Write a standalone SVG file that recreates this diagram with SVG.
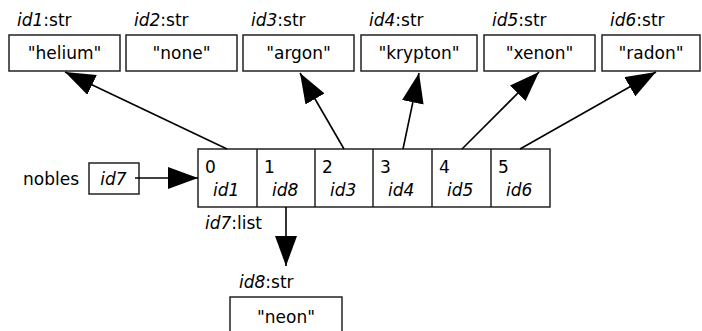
<svg xmlns="http://www.w3.org/2000/svg" width="702" height="331" viewBox="0 0 702 331">
<style>
text{font-family:"DejaVu Sans",sans-serif;font-size:17px;fill:#000}
.i{font-style:italic}
.box{fill:#fff;stroke:#222;stroke-width:1.5}
.c{text-anchor:middle}
.ln{stroke:#000;stroke-width:1.6;fill:none}
.sep{stroke:#222;stroke-width:1.5}
</style>
<defs>
<marker id="ah" markerUnits="userSpaceOnUse" markerWidth="30" markerHeight="22" refX="30" refY="11" orient="auto" viewBox="0 0 30 22">
<path d="M0,0 L30,11 L0,22 z" fill="#000"/>
</marker>
</defs>
<rect width="702" height="331" fill="#fff"/>
<g id="id1">
<text x="17" y="26"><tspan class="i">id1</tspan>:str</text>
<rect class="box" x="9" y="35" width="111" height="36"/>
<text class="c" x="64.5" y="59">"helium"</text>
</g>
<g id="id2">
<text x="134" y="26"><tspan class="i">id2</tspan>:str</text>
<rect class="box" x="126" y="35" width="111" height="36"/>
<text class="c" x="181.5" y="59">"none"</text>
</g>
<g id="id3">
<text x="251" y="26"><tspan class="i">id3</tspan>:str</text>
<rect class="box" x="243" y="35" width="111" height="36"/>
<text class="c" x="298.5" y="59">"argon"</text>
</g>
<g id="id4">
<text x="369" y="26"><tspan class="i">id4</tspan>:str</text>
<rect class="box" x="361" y="35" width="116" height="36"/>
<text class="c" x="419" y="59">"krypton"</text>
</g>
<g id="id5">
<text x="492" y="26"><tspan class="i">id5</tspan>:str</text>
<rect class="box" x="484" y="35" width="111" height="36"/>
<text class="c" x="539.5" y="59">"xenon"</text>
</g>
<g id="id6">
<text x="610" y="26"><tspan class="i">id6</tspan>:str</text>
<rect class="box" x="602" y="35" width="98" height="36"/>
<text class="c" x="651" y="59">"radon"</text>
</g>
<g id="nobles">
<text x="23" y="185">nobles</text>
<rect class="box" x="89" y="163" width="50" height="31"/>
<text class="i c" x="113.5" y="185">id7</text>
</g>
<g id="id7">
<rect class="box" x="198" y="149" width="352" height="58"/>
<line class="sep" x1="257" y1="149" x2="257" y2="207"/>
<line class="sep" x1="315" y1="149" x2="315" y2="207"/>
<line class="sep" x1="373" y1="149" x2="373" y2="207"/>
<line class="sep" x1="432" y1="149" x2="432" y2="207"/>
<line class="sep" x1="491" y1="149" x2="491" y2="207"/>
<text x="205" y="173">0</text><text class="i" x="213" y="196">id1</text>
<text x="264" y="173">1</text><text class="i" x="272" y="196">id8</text>
<text x="322" y="173">2</text><text class="i" x="330" y="196">id3</text>
<text x="380" y="173">3</text><text class="i" x="388" y="196">id4</text>
<text x="439" y="173">4</text><text class="i" x="447" y="196">id5</text>
<text x="498" y="173">5</text><text class="i" x="506" y="196">id6</text>
<text x="205" y="229"><tspan class="i">id7</tspan>:list</text>
</g>
<g id="id8">
<text x="239" y="288"><tspan class="i">id8</tspan>:str</text>
<rect class="box" x="230" y="297" width="112" height="40"/>
<text class="c" x="286" y="323">"neon"</text>
</g>
<g id="connectors">
<line class="ln" x1="227" y1="149" x2="65" y2="72" marker-end="url(#ah)"/>
<line class="ln" x1="344" y1="149" x2="300" y2="73" marker-end="url(#ah)"/>
<line class="ln" x1="403" y1="149" x2="419" y2="73" marker-end="url(#ah)"/>
<line class="ln" x1="462" y1="149" x2="539" y2="72" marker-end="url(#ah)"/>
<line class="ln" x1="520" y1="149" x2="656" y2="72" marker-end="url(#ah)"/>
<line class="ln" x1="135" y1="178" x2="198" y2="178" marker-end="url(#ah)"/>
<line class="ln" x1="286" y1="207" x2="286" y2="266" marker-end="url(#ah)"/>
</g>
</svg>
